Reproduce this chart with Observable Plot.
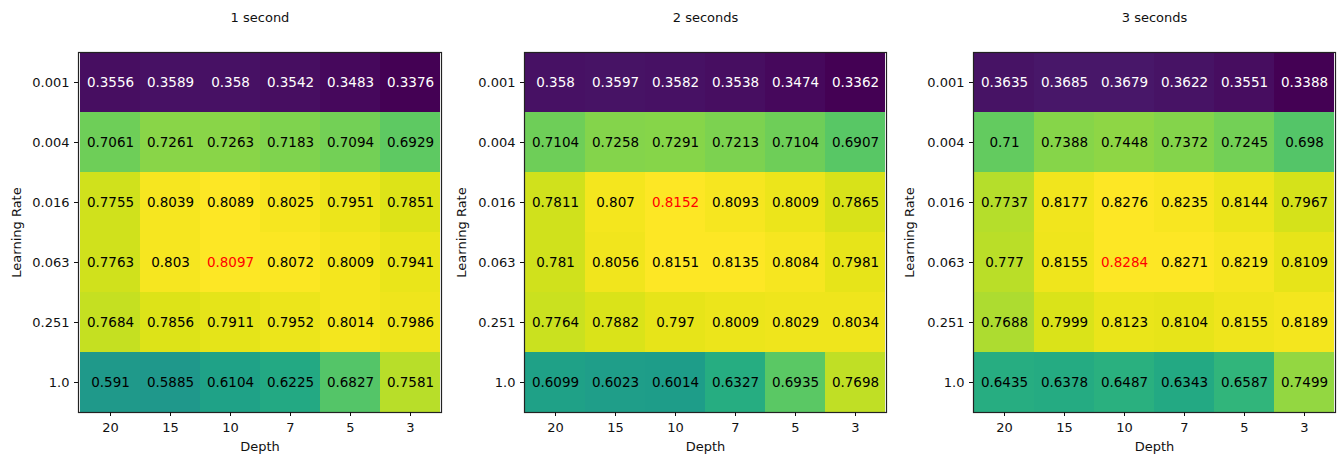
<!DOCTYPE html>
<html>
<head>
<meta charset="utf-8">
<script src="https://cdn.jsdelivr.net/npm/d3@7"></script>
<script src="https://cdn.jsdelivr.net/npm/@observablehq/plot@0.6"></script>
<style>
  html, body { margin: 0; padding: 0; background: #fff; }
  #wrap { position: relative; width: 1341px; height: 456px; overflow: hidden; }
  #wrap svg { position: absolute; top: 0; background: transparent; }
  #wrap svg text { font-family: "DejaVu Sans", sans-serif; }
</style>
</head>
<body>
<div id="wrap"></div>
<script>
const depths = ["20", "15", "10", "7", "5", "3"];
const rates = ["0.001", "0.004", "0.016", "0.063", "0.251", "1.0"];
const titles = ["1 second", "2 seconds", "3 seconds"];

const values1 = [
  [0.3556, 0.3589, 0.358, 0.3542, 0.3483, 0.3376],
  [0.7061, 0.7261, 0.7263, 0.7183, 0.7094, 0.6929],
  [0.7755, 0.8039, 0.8089, 0.8025, 0.7951, 0.7851],
  [0.7763, 0.803, 0.8097, 0.8072, 0.8009, 0.7941],
  [0.7684, 0.7856, 0.7911, 0.7952, 0.8014, 0.7986],
  [0.591, 0.5885, 0.6104, 0.6225, 0.6827, 0.7581]
];
const values2 = [
  [0.358, 0.3597, 0.3582, 0.3538, 0.3474, 0.3362],
  [0.7104, 0.7258, 0.7291, 0.7213, 0.7104, 0.6907],
  [0.7811, 0.807, 0.8152, 0.8093, 0.8009, 0.7865],
  [0.781, 0.8056, 0.8151, 0.8135, 0.8084, 0.7981],
  [0.7764, 0.7882, 0.797, 0.8009, 0.8029, 0.8034],
  [0.6099, 0.6023, 0.6014, 0.6327, 0.6935, 0.7698]
];
const values3 = [
  [0.3635, 0.3685, 0.3679, 0.3622, 0.3551, 0.3388],
  [0.71, 0.7388, 0.7448, 0.7372, 0.7245, 0.698],
  [0.7737, 0.8177, 0.8276, 0.8235, 0.8144, 0.7967],
  [0.777, 0.8155, 0.8284, 0.8271, 0.8219, 0.8109],
  [0.7688, 0.7999, 0.8123, 0.8104, 0.8155, 0.8189],
  [0.6435, 0.6378, 0.6487, 0.6343, 0.6587, 0.7499]
];

const panels = [
  {values: values1, left: 0, width: 445, marginLeft: 78, marginRight: 4, labelOffset: 67},
  {values: values2, left: 445, width: 445, marginLeft: 79, marginRight: 4, labelOffset: 68},
  {values: values3, left: 890, width: 451, marginLeft: 83, marginRight: 6, labelOffset: 69}
];

const wrap = document.getElementById("wrap");

panels.forEach((p, i) => {
  const cells = [];
  p.values.forEach((row, r) => row.forEach((v, c) => cells.push({rate: rates[r], depth: depths[c], v})));
  const lo = d3.min(cells, d => d.v), hi = d3.max(cells, d => d.v);
  const textColor = d => d.v === hi ? "#ff0000" : ((d.v - lo) / (hi - lo) < 0.3 ? "#ffffff" : "#000000");
  const chart = Plot.plot({
    width: p.width,
    height: 456,
    marginLeft: p.marginLeft,
    marginRight: p.marginRight,
    marginTop: 52,
    marginBottom: 44,
    style: {color: "#111", background: "transparent"},
    x: {domain: depths, padding: 0},
    y: {domain: rates, padding: 0},
    color: {type: "linear", scheme: "viridis", domain: [lo, hi]},
    marks: [
      Plot.cell(cells, {x: "depth", y: "rate", fill: "v", inset: 0}),
      Plot.text(cells, {x: "depth", y: "rate", text: d => String(d.v), fill: textColor, fontSize: 13.5}),
      Plot.frame({stroke: "#222", strokeWidth: 1.2}),
      Plot.axisX({label: "Depth", labelAnchor: "center", labelArrow: "none", labelOffset: 38, tickSize: 4, tickPadding: 6}),
      Plot.axisY({label: "Learning Rate", labelAnchor: "center", labelArrow: "none", labelOffset: p.labelOffset, tickSize: 4, tickPadding: 5}),
      Plot.text([titles[i]], {frameAnchor: "top", dy: -40, fill: "#111", fontSize: 13})
    ]
  });
  const sel = d3.select(chart);
  sel.selectAll('g[aria-label$="axis tick label"] text, g[aria-label$="axis label"] text').style("font-size", "13px");
  chart.style.left = p.left + "px";
  wrap.appendChild(chart);
});
</script>
</body>
</html>
